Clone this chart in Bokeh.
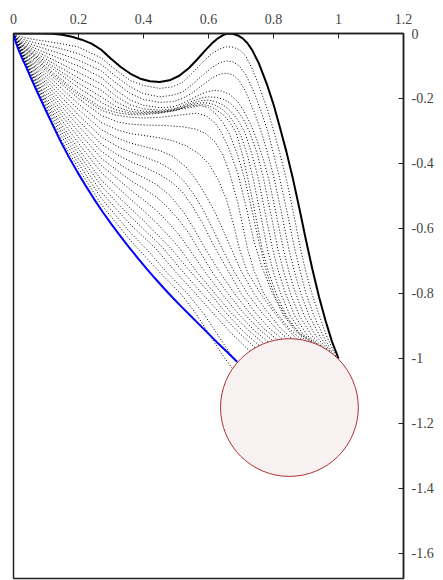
from bokeh.plotting import figure
from bokeh.models import Range1d, FixedTicker
from bokeh.embed import file_html
from bokeh.resources import INLINE

# ---- axis ticks ----
x_ticks = [0, 0.2, 0.4, 0.6, 0.8, 1.0, 1.2]
x_tick_labels = ["0", "0.2", "0.4", "0.6", "0.8", "1", "1.2"]
y_ticks = [0, -0.2, -0.4, -0.6, -0.8, -1.0, -1.2, -1.4, -1.6]
y_tick_labels = ["0", "-0.2", "-0.4", "-0.6", "-0.8", "-1", "-1.2", "-1.4", "-1.6"]

# ---- initial curve (black) ----
black_x = [0, 0.04, 0.08, 0.12, 0.15, 0.18, 0.21, 0.24, 0.27, 0.3, 0.33, 0.36, 0.39, 0.42, 0.45,
           0.48, 0.51, 0.54, 0.565, 0.59, 0.61, 0.63, 0.645, 0.655, 0.665, 0.675, 0.69, 0.705,
           0.72, 0.735, 0.755, 0.78, 0.80, 0.82, 0.84, 0.86, 0.88, 0.90, 0.92, 0.94, 0.96,
           0.98, 1.0]
black_y = [0, 0, 0, -0.001, -0.004, -0.01, -0.019, -0.031, -0.05, -0.078, -0.103, -0.124,
           -0.139, -0.147, -0.149, -0.144, -0.13, -0.106, -0.08, -0.052, -0.031, -0.014, -0.005,
           -0.001, 0, -0.001, -0.006, -0.015, -0.03, -0.052, -0.092, -0.157, -0.218, -0.29,
           -0.365, -0.448, -0.54, -0.636, -0.727, -0.81, -0.883, -0.948, -1.0]

# ---- final curve (blue) ----
blue_x = [0, 0.003, 0.008, 0.015, 0.025, 0.037, 0.052, 0.07, 0.093, 0.12, 0.145, 0.17, 0.196,
          0.22, 0.247, 0.275, 0.3, 0.33, 0.355, 0.385, 0.41, 0.436, 0.462, 0.49, 0.515, 0.54,
          0.565, 0.595, 0.625, 0.655, 0.688]
blue_y = [0, -0.014, -0.03, -0.049, -0.073, -0.099, -0.133, -0.173, -0.223, -0.28, -0.332,
          -0.379, -0.425, -0.465, -0.508, -0.55, -0.585, -0.625, -0.657, -0.694, -0.724,
          -0.754, -0.783, -0.813, -0.839, -0.864, -0.889, -0.919, -0.949, -0.978, -1.01]

# ---- obstacle circle ----
circle_x = [0.849]
circle_y = [-1.151]
circle_r = 0.212

# ---- intermediate iterations (dotted) ----
a1 = [(0, 0), (0.01, -0.006), (0.03, -0.012), (0.06, -0.018), (0.1, -0.024), (0.15, -0.032),
      (0.2, -0.042), (0.27, -0.075), (0.315, -0.112), (0.36, -0.145), (0.4, -0.16), (0.45, -0.169),
      (0.49, -0.164), (0.52, -0.15), (0.55, -0.122), (0.58, -0.09), (0.61, -0.062),
      (0.635, -0.047), (0.655, -0.041), (0.675, -0.042), (0.695, -0.05), (0.715, -0.07),
      (0.735, -0.11), (0.755, -0.16), (0.78, -0.23), (0.8, -0.297), (0.82, -0.37), (0.84, -0.45),
      (0.86, -0.545), (0.883, -0.662), (0.9, -0.735), (0.918, -0.8), (0.94, -0.865),
      (0.965, -0.935), (0.994, -0.996)]
a2 = [(0, 0), (0.01, -0.01), (0.03, -0.018), (0.06, -0.027), (0.1, -0.036), (0.15, -0.048),
      (0.2, -0.062), (0.27, -0.095), (0.315, -0.132), (0.36, -0.165), (0.4, -0.185), (0.45, -0.195),
      (0.49, -0.19), (0.52, -0.18), (0.55, -0.157), (0.58, -0.13), (0.61, -0.105), (0.635, -0.09),
      (0.655, -0.084), (0.675, -0.087), (0.695, -0.1), (0.715, -0.127), (0.74, -0.18),
      (0.762, -0.24), (0.782, -0.3), (0.8, -0.37), (0.82, -0.45), (0.843, -0.555),
      (0.865, -0.662), (0.883, -0.735), (0.9, -0.8), (0.925, -0.87), (0.955, -0.935),
      (0.985, -0.989)]
a3 = [(0, 0), (0.01, -0.013), (0.03, -0.024), (0.06, -0.035), (0.1, -0.048), (0.15, -0.064),
      (0.2, -0.082), (0.27, -0.115), (0.315, -0.152), (0.36, -0.185), (0.4, -0.203), (0.45, -0.212),
      (0.49, -0.21), (0.52, -0.2), (0.55, -0.183), (0.58, -0.16), (0.61, -0.137), (0.635, -0.125),
      (0.655, -0.122), (0.675, -0.127), (0.695, -0.145), (0.715, -0.18), (0.74, -0.24),
      (0.765, -0.31), (0.785, -0.38), (0.803, -0.45), (0.825, -0.555), (0.847, -0.662),
      (0.865, -0.735), (0.884, -0.8), (0.91, -0.87), (0.945, -0.935), (0.977, -0.982)]
a4 = [(0, 0), (0.01, -0.015), (0.03, -0.029), (0.06, -0.043), (0.1, -0.06), (0.15, -0.08),
      (0.2, -0.1), (0.27, -0.135), (0.315, -0.174), (0.36, -0.205), (0.4, -0.221), (0.45, -0.228),
      (0.49, -0.226), (0.52, -0.215), (0.55, -0.2), (0.58, -0.185), (0.6, -0.178), (0.62, -0.175),
      (0.64, -0.177), (0.665, -0.187), (0.69, -0.21), (0.71, -0.24), (0.73, -0.28),
      (0.748, -0.325), (0.768, -0.385), (0.786, -0.45), (0.808, -0.555), (0.83, -0.662),
      (0.848, -0.735), (0.868, -0.8), (0.895, -0.87), (0.93, -0.93), (0.968, -0.975)]
a5 = [(0, 0), (0.01, -0.017), (0.03, -0.033), (0.06, -0.05), (0.1, -0.07), (0.15, -0.095),
      (0.2, -0.12), (0.27, -0.155), (0.315, -0.193), (0.36, -0.22), (0.4, -0.232), (0.45, -0.236),
      (0.49, -0.232), (0.52, -0.222), (0.55, -0.208), (0.58, -0.198), (0.6, -0.195),
      (0.62, -0.196), (0.645, -0.202), (0.665, -0.213), (0.685, -0.232), (0.705, -0.26),
      (0.725, -0.3), (0.75, -0.37), (0.77, -0.45), (0.792, -0.555), (0.813, -0.662),
      (0.832, -0.735), (0.852, -0.8), (0.88, -0.87), (0.918, -0.93), (0.958, -0.969)]
a6 = [(0, 0), (0.01, -0.018), (0.03, -0.036), (0.06, -0.056), (0.1, -0.079), (0.15, -0.108),
      (0.2, -0.137), (0.27, -0.175), (0.315, -0.21), (0.36, -0.232), (0.4, -0.239), (0.45, -0.24),
      (0.49, -0.235), (0.52, -0.226), (0.55, -0.214), (0.58, -0.206), (0.6, -0.205),
      (0.62, -0.209), (0.645, -0.22), (0.665, -0.236), (0.69, -0.265), (0.712, -0.305),
      (0.735, -0.375), (0.754, -0.45), (0.775, -0.555), (0.797, -0.662), (0.816, -0.735),
      (0.837, -0.8), (0.866, -0.87), (0.905, -0.93), (0.949, -0.964)]
a7 = [(0, 0), (0.01, -0.019), (0.03, -0.039), (0.06, -0.061), (0.1, -0.087), (0.15, -0.12),
      (0.2, -0.153), (0.27, -0.195), (0.315, -0.225), (0.36, -0.24), (0.4, -0.243), (0.45, -0.242),
      (0.49, -0.237), (0.52, -0.228), (0.55, -0.218), (0.58, -0.213), (0.6, -0.214),
      (0.62, -0.22), (0.645, -0.235), (0.665, -0.255), (0.685, -0.285), (0.7, -0.315),
      (0.72, -0.375), (0.738, -0.45), (0.76, -0.555), (0.781, -0.662), (0.8, -0.735),
      (0.822, -0.8), (0.852, -0.87), (0.893, -0.928), (0.939, -0.959)]
a8 = [(0, 0), (0.01, -0.02), (0.03, -0.041), (0.06, -0.065), (0.1, -0.094), (0.15, -0.13),
      (0.2, -0.167), (0.27, -0.212), (0.315, -0.235), (0.36, -0.245), (0.4, -0.246), (0.45, -0.244),
      (0.49, -0.239), (0.52, -0.23), (0.55, -0.222), (0.58, -0.219), (0.6, -0.222),
      (0.62, -0.232), (0.645, -0.25), (0.665, -0.272), (0.685, -0.305), (0.705, -0.375),
      (0.722, -0.45), (0.744, -0.555), (0.765, -0.662), (0.785, -0.735), (0.808, -0.8),
      (0.84, -0.87), (0.882, -0.925), (0.928, -0.954)]
b1 = [(0, 0), (0.01, -0.022), (0.03, -0.043), (0.06, -0.068), (0.1, -0.103), (0.15, -0.143),
      (0.2, -0.183), (0.27, -0.228), (0.315, -0.243), (0.36, -0.25), (0.4, -0.25), (0.45, -0.245),
      (0.52, -0.232), (0.575, -0.222), (0.6, -0.228), (0.625, -0.25), (0.645, -0.275),
      (0.665, -0.31), (0.69, -0.375), (0.712, -0.45), (0.735, -0.55), (0.755, -0.64),
      (0.78, -0.74), (0.805, -0.81), (0.84, -0.875), (0.878, -0.922), (0.915, -0.949)]
b2 = [(0, 0), (0.01, -0.024), (0.03, -0.047), (0.06, -0.073), (0.1, -0.108), (0.15, -0.15),
      (0.2, -0.19), (0.27, -0.236), (0.315, -0.251), (0.36, -0.258), (0.4, -0.26), (0.45, -0.258),
      (0.52, -0.25), (0.565, -0.245), (0.595, -0.255), (0.62, -0.275), (0.64, -0.305),
      (0.665, -0.36), (0.69, -0.43), (0.715, -0.53), (0.74, -0.64), (0.765, -0.72),
      (0.795, -0.795), (0.83, -0.865), (0.865, -0.913), (0.9, -0.945)]
b3 = [(0, 0), (0.01, -0.025), (0.03, -0.05), (0.06, -0.078), (0.1, -0.115), (0.15, -0.158),
      (0.2, -0.2), (0.27, -0.252), (0.32, -0.272), (0.36, -0.279), (0.41, -0.282), (0.46, -0.283),
      (0.52, -0.287), (0.56, -0.294), (0.59, -0.307), (0.62, -0.333), (0.645, -0.375),
      (0.665, -0.43), (0.69, -0.52), (0.705, -0.59), (0.72, -0.662), (0.74, -0.73), (0.77, -0.8),
      (0.81, -0.86), (0.85, -0.91), (0.886, -0.942)]
b4 = [(0, 0), (0.01, -0.026), (0.03, -0.052), (0.06, -0.083), (0.1, -0.124), (0.15, -0.171),
      (0.2, -0.217), (0.27, -0.274), (0.32, -0.297), (0.36, -0.308), (0.41, -0.315), (0.45, -0.321),
      (0.49, -0.33), (0.53, -0.345), (0.57, -0.37), (0.6, -0.4), (0.63, -0.45), (0.655, -0.51),
      (0.675, -0.58), (0.695, -0.662), (0.72, -0.735), (0.76, -0.8), (0.8, -0.855),
      (0.84, -0.905), (0.871, -0.94)]
b5 = [(0, 0), (0.01, -0.027), (0.03, -0.055), (0.06, -0.089), (0.1, -0.134), (0.15, -0.185),
      (0.2, -0.234), (0.27, -0.296), (0.32, -0.322), (0.36, -0.337), (0.41, -0.35), (0.45, -0.36),
      (0.49, -0.378), (0.53, -0.41), (0.56, -0.447), (0.59, -0.495), (0.62, -0.55),
      (0.645, -0.605), (0.67, -0.662), (0.7, -0.73), (0.74, -0.8), (0.78, -0.855),
      (0.82, -0.905), (0.856, -0.939)]
b6 = [(0, 0), (0.01, -0.027), (0.03, -0.057), (0.06, -0.095), (0.1, -0.144), (0.15, -0.199),
      (0.2, -0.251), (0.27, -0.318), (0.32, -0.348), (0.36, -0.365), (0.41, -0.383), (0.45, -0.398),
      (0.49, -0.422), (0.525, -0.455), (0.555, -0.495), (0.585, -0.545), (0.615, -0.605),
      (0.642, -0.662), (0.68, -0.735), (0.72, -0.8), (0.765, -0.86), (0.805, -0.905),
      (0.842, -0.939)]
b7 = [(0, 0), (0.01, -0.028), (0.03, -0.06), (0.06, -0.1), (0.1, -0.154), (0.15, -0.213),
      (0.2, -0.268), (0.27, -0.34), (0.32, -0.373), (0.36, -0.394), (0.41, -0.415), (0.45, -0.434),
      (0.49, -0.46), (0.52, -0.488), (0.55, -0.53), (0.585, -0.59), (0.615, -0.65), (0.66, -0.73),
      (0.7, -0.8), (0.745, -0.86), (0.79, -0.91), (0.827, -0.94)]
b8 = [(0, 0), (0.01, -0.029), (0.03, -0.062), (0.06, -0.106), (0.1, -0.164), (0.15, -0.227),
      (0.2, -0.285), (0.27, -0.362), (0.32, -0.398), (0.36, -0.423), (0.4, -0.443), (0.44, -0.465),
      (0.48, -0.497), (0.52, -0.545), (0.555, -0.6), (0.59, -0.662), (0.635, -0.735),
      (0.68, -0.8), (0.725, -0.858), (0.77, -0.908), (0.812, -0.942)]
b9 = [(0, 0), (0.01, -0.03), (0.03, -0.065), (0.06, -0.112), (0.1, -0.174), (0.15, -0.241),
      (0.2, -0.303), (0.27, -0.384), (0.32, -0.422), (0.36, -0.452), (0.4, -0.477), (0.44, -0.503),
      (0.475, -0.535), (0.51, -0.575), (0.54, -0.615), (0.568, -0.662), (0.615, -0.74),
      (0.66, -0.8), (0.705, -0.857), (0.755, -0.91), (0.798, -0.945)]
b10 = [(0, 0), (0.01, -0.03), (0.03, -0.067), (0.06, -0.118), (0.1, -0.184), (0.15, -0.255),
       (0.2, -0.32), (0.27, -0.406), (0.32, -0.447), (0.36, -0.481), (0.4, -0.512), (0.44, -0.545),
       (0.475, -0.58), (0.51, -0.62), (0.54, -0.662), (0.59, -0.735), (0.64, -0.8), (0.69, -0.86),
       (0.74, -0.913), (0.783, -0.949)]
b11 = [(0, 0), (0.01, -0.031), (0.03, -0.07), (0.06, -0.125), (0.1, -0.195), (0.15, -0.269),
       (0.2, -0.338), (0.27, -0.428), (0.32, -0.473), (0.36, -0.51), (0.4, -0.545), (0.44, -0.583),
       (0.48, -0.625), (0.512, -0.662), (0.565, -0.735), (0.62, -0.8), (0.67, -0.86),
       (0.725, -0.915), (0.77, -0.954)]
b12 = [(0, 0), (0.01, -0.032), (0.03, -0.072), (0.06, -0.128), (0.1, -0.203), (0.15, -0.284),
       (0.2, -0.355), (0.27, -0.451), (0.32, -0.5), (0.36, -0.538), (0.4, -0.576), (0.44, -0.616),
       (0.485, -0.662), (0.54, -0.728), (0.6, -0.795), (0.65, -0.855), (0.705, -0.915),
       (0.756, -0.96)]
b13 = [(0, 0), (0.01, -0.032), (0.03, -0.074), (0.06, -0.133), (0.1, -0.211), (0.15, -0.296),
       (0.2, -0.37), (0.27, -0.469), (0.32, -0.522), (0.36, -0.563), (0.4, -0.602), (0.44, -0.64),
       (0.462, -0.662), (0.52, -0.732), (0.58, -0.8), (0.635, -0.86), (0.69, -0.917),
       (0.743, -0.967)]
b14 = [(0, 0), (0.01, -0.033), (0.03, -0.075), (0.06, -0.138), (0.1, -0.219), (0.15, -0.308),
       (0.2, -0.385), (0.27, -0.488), (0.32, -0.544), (0.36, -0.588), (0.4, -0.626),
       (0.438, -0.662), (0.5, -0.735), (0.56, -0.8), (0.615, -0.862), (0.67, -0.922),
       (0.727, -0.977)]
b15 = [(0, 0), (0.01, -0.034), (0.03, -0.077), (0.06, -0.143), (0.1, -0.227), (0.15, -0.32),
       (0.2, -0.4), (0.27, -0.507), (0.32, -0.566), (0.36, -0.613), (0.408, -0.662),
       (0.47, -0.733), (0.535, -0.8), (0.585, -0.862), (0.63, -0.93), (0.67, -0.99),
       (0.7, -1.02)]
b16 = [(0, 0), (0.01, -0.034), (0.03, -0.079), (0.06, -0.147), (0.1, -0.235), (0.15, -0.333),
       (0.2, -0.415), (0.27, -0.526), (0.32, -0.588), (0.36, -0.637), (0.383, -0.662),
       (0.45, -0.735), (0.514, -0.8), (0.56, -0.86), (0.6, -0.922), (0.64, -0.985),
       (0.68, -1.04)]

iterations = [a1, a2, a3, a4, a5, a6, a7, a8,
              b1, b2, b3, b4, b5, b6, b7, b8, b9, b10, b11, b12, b13, b14, b15, b16]

p = figure(width=443, height=580, output_backend="svg", toolbar_location=None,
           x_range=Range1d(0, 1.2), y_range=Range1d(-1.677, 0),
           x_axis_location="above", y_axis_location="right",
           min_border_left=13, min_border_top=33, min_border_right=40, min_border_bottom=2)

p.xgrid.visible = False
p.ygrid.visible = False
p.background_fill_color = "white"
p.border_fill_color = "white"
p.outline_line_color = "#222222"
p.outline_line_width = 1.5

for c in iterations:
    xs = [pt[0] for pt in c]
    ys = [pt[1] for pt in c]
    p.line(xs, ys, line_color="black", line_width=1, line_dash="1 2")

p.line(black_x, black_y, line_color="black", line_width=2)
p.line(blue_x, blue_y, line_color="#0000ff", line_width=2)
p.circle(circle_x, circle_y, radius=circle_r, fill_color="#f8f1f1",
         line_color="#b03030", line_width=1)

for ax, ticks, labels, so in [(p.xaxis[0], x_ticks, x_tick_labels, 10),
                              (p.yaxis[0], y_ticks, y_tick_labels, 8)]:
    ax.ticker = FixedTicker(ticks=ticks)
    ax.major_label_overrides = {t: l for t, l in zip(ticks, labels)}
    ax.major_tick_in = 5
    ax.major_tick_out = 0
    ax.minor_tick_line_color = None
    ax.axis_line_color = "#222222"
    ax.axis_line_width = 1.5
    ax.major_tick_line_color = "#222222"
    ax.major_label_text_font = "Liberation Serif"
    ax.major_label_text_font_size = "14px"
    ax.major_label_text_color = "#444444"
    ax.major_label_standoff = so

open("out.html", "w").write(file_html(p, INLINE))
